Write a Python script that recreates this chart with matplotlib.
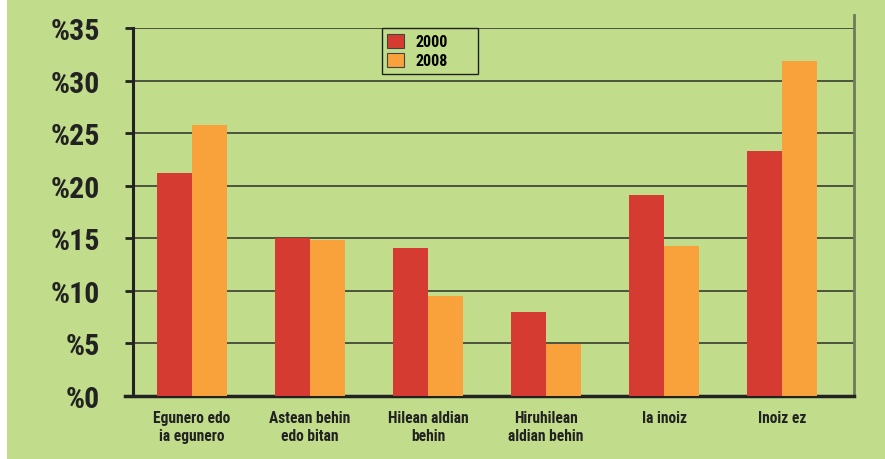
import numpy as np
import matplotlib.pyplot as plt
from matplotlib.patches import Rectangle
from matplotlib.lines import Line2D

categories = ["Egunero edo\nia egunero", "Astean behin\nedo bitan", "Hilean aldian\nbehin",
              "Hiruhilean\naldian behin", "Ia inoiz", "Inoiz ez"]
vals_2000 = [21.2, 15.0, 14.1, 8.0, 19.1, 23.3]
vals_2008 = [25.8, 14.8, 9.5, 4.9, 14.3, 31.9]
yticks = [0, 5, 10, 15, 20, 25, 30, 35]

plt.rcParams['font.family'] = ['Roboto Condensed', 'Liberation Sans Narrow', 'DejaVu Sans']
plt.rcParams['font.stretch'] = 'condensed'
plt.rcParams['font.weight'] = 'bold'

green = '#c1dc8a'
red = '#d63b32'
orange = '#f9a13b'
dark = '#222222'

fig = plt.figure(figsize=(8.85, 4.6), dpi=100)
fig.patch.set_facecolor('white')
fig.patches.append(Rectangle((7 / 885, 0), 1, 1, transform=fig.transFigure,
                             facecolor=green, edgecolor='none', zorder=-10))

ax = fig.add_axes([133 / 885, 63 / 460, 721 / 885, 368 / 460])
ax.set_facecolor(green)

x = np.arange(len(categories))
w = 0.297
ax.bar(x, vals_2000, width=w, align='edge', color=red, label='2000', zorder=3)
ax.bar(x + w, vals_2008, width=w, align='edge', color=orange, label='2008', zorder=3)

ax.set_xlim(-0.5 + w, 5.61 + w)
ax.set_ylim(0, 35)
ax.set_yticks(yticks)
ax.set_yticklabels(['%' + str(t) for t in yticks], fontsize=21.5)
ax.set_xticks(x + w)
ax.set_xticklabels(categories, fontsize=11.2, linespacing=1.3)
ax.tick_params(axis='x', length=0, pad=10, colors=dark)
ax.tick_params(axis='y', length=6, width=2, pad=18, colors=dark)
ax.yaxis.grid(True, color='#3a3d30', linewidth=1.2, zorder=1)
ax.set_axisbelow(True)

for s in ['top', 'right']:
    ax.spines[s].set_visible(False)
ax.spines['left'].set_linewidth(2.2)
ax.spines['left'].set_color(dark)
ax.spines['bottom'].set_linewidth(2.5)
ax.spines['bottom'].set_color(dark)
ax.spines['bottom'].set_bounds(-0.5 + w - 8 / 118, 5.61 + w)
# right border line that rises above the plot area
ax.add_line(Line2D([1, 1], [0, 1.035], transform=ax.transAxes, color='#6e7a5c',
                   linewidth=2, clip_on=False, zorder=2))

leg = ax.legend(loc='upper left', bbox_to_anchor=(0.345, 0.85, 0.133, 0.15), mode='expand',
                borderaxespad=0, frameon=True, fancybox=False, fontsize=11.5,
                handlelength=1.05, handleheight=1.05, borderpad=0.35, labelspacing=0.2,
                handletextpad=0.7)
leg.get_frame().set_edgecolor(dark)
leg.get_frame().set_facecolor(green)
leg.get_frame().set_linewidth(1)
leg.get_frame().set_alpha(1)
for p in leg.get_patches():
    p.set_edgecolor('#444444')
    p.set_linewidth(0.8)

fig.savefig('out.png', dpi=100, facecolor=fig.get_facecolor())
